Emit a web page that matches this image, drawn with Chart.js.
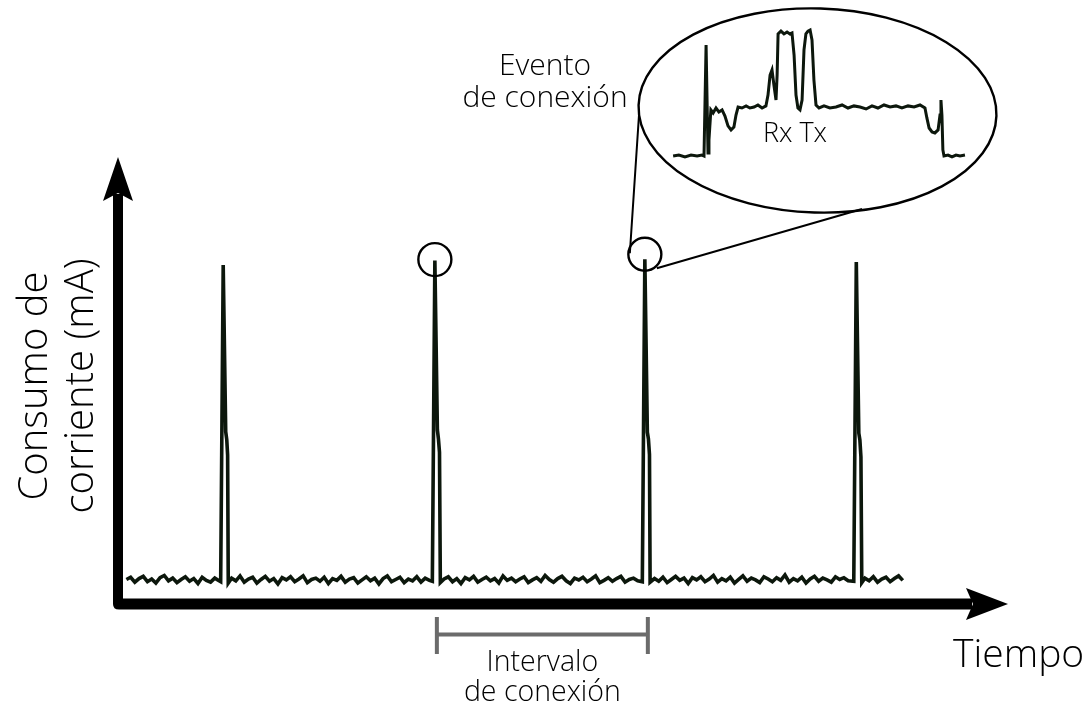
<!DOCTYPE html>
<html>
<head>
<meta charset="utf-8">
<script src="https://cdn.jsdelivr.net/npm/chart.js@4/dist/chart.umd.min.js"></script>
<style>
  html, body { margin: 0; padding: 0; background: #fff; }
  #wrap { position: relative; width: 1090px; height: 709px; }
  #main { position: absolute; left: 0; top: 0; }
  #zoomed { position: absolute; left: 660px; top: 20px; }
</style>
</head>
<body>
<div id="wrap">
  <canvas id="main" width="1090" height="709"></canvas>
  <canvas id="zoomed" width="320" height="160"></canvas>
</div>
<script>
// main trace: time (ms) and current (mA)
const tiempo = [
  4, 6, 8, 10, 12, 14, 16, 18, 20, 22, 24, 26, 28, 30, 32, 34, 36, 38, 40, 42, 44, 46, 48,
  48.8, 50.0, 51.2, 51.7, 52.1, 52.4,
  54, 56, 58, 60, 62, 64, 66, 68, 70, 72, 74, 76, 78, 80, 82, 84, 86, 88, 90, 92, 94, 96, 98, 100,
  102, 104, 106, 108, 110, 112, 114, 116, 118, 120, 122, 124, 126, 128, 130, 132, 134, 136, 138, 140,
  142, 144, 146, 148,
  149.4, 150.6, 151.8, 152.3, 152.8, 153.2,
  155, 157, 159, 161, 163, 165, 167, 169, 171, 173, 175, 177, 179, 181, 183, 185, 187, 189, 191, 193,
  195, 197, 199, 201, 203, 205, 207, 209, 211, 213, 215, 217, 219, 221, 223, 225, 227, 229, 231, 233,
  235, 237, 239, 241, 243, 245, 247,
  249.2, 250.4, 251.6, 252.1, 252.6, 252.9,
  255, 257, 259, 261, 263, 265, 267, 269, 271, 273, 275, 277, 279, 281, 283, 285, 287, 289, 291, 293,
  295, 297, 299, 301, 303, 305, 307, 309, 311, 313, 315, 317, 319, 321, 323, 325, 327, 329, 331, 333,
  335, 337, 339, 341, 343, 345, 347,
  349.7, 350.9, 352.1, 352.6, 353.1, 353.5,
  355, 357, 359, 361, 363, 365, 367, 369, 371, 373
];
const corriente = [
  0.55, 0.60, 0.49, 0.57, 0.62, 0.50, 0.56, 0.47, 0.59, 0.64, 0.52, 0.58, 0.48, 0.55, 0.61, 0.51, 0.57, 0.46, 0.60, 0.53, 0.49, 0.58, 0.52,
  0.50, 7.60, 3.86, 3.68, 3.34, 0.47,
  0.58, 0.52, 0.63, 0.49, 0.56, 0.60, 0.47, 0.55, 0.62, 0.51, 0.57, 0.45, 0.59, 0.54, 0.61, 0.50, 0.56, 0.63, 0.48, 0.55, 0.58, 0.51, 0.60, 0.46,
  0.57, 0.53, 0.62, 0.49, 0.56, 0.59, 0.47, 0.54, 0.61, 0.52, 0.58, 0.45, 0.57, 0.63, 0.50, 0.55, 0.60, 0.48, 0.56, 0.52,
  0.61, 0.49, 0.58, 0.53,
  0.51, 7.70, 3.90, 3.70, 3.40, 0.48,
  0.56, 0.61, 0.50, 0.57, 0.46, 0.59, 0.54, 0.62, 0.49, 0.55, 0.60, 0.52, 0.57, 0.47, 0.63, 0.53, 0.58, 0.50, 0.56, 0.61,
  0.48, 0.54, 0.59, 0.51, 0.64, 0.55, 0.49, 0.57, 0.62, 0.52, 0.46, 0.58, 0.54, 0.60, 0.50, 0.56, 0.63, 0.48, 0.53, 0.59,
  0.51, 0.57, 0.62, 0.49, 0.55, 0.58, 0.52,
  0.50, 7.73, 3.85, 3.70, 3.35, 0.49,
  0.57, 0.51, 0.60, 0.48, 0.55, 0.62, 0.53, 0.58, 0.46, 0.59, 0.54, 0.61, 0.50, 0.56, 0.64, 0.49, 0.57, 0.52, 0.60, 0.47,
  0.55, 0.63, 0.51, 0.58, 0.54, 0.48, 0.61, 0.56, 0.50, 0.59, 0.53, 0.65, 0.49, 0.57, 0.52, 0.60, 0.47, 0.56, 0.62, 0.51,
  0.58, 0.54, 0.49, 0.61, 0.55, 0.59, 0.52,
  0.51, 7.67, 3.83, 3.68, 3.30, 0.48,
  0.58, 0.52, 0.61, 0.49, 0.56, 0.60, 0.50, 0.57, 0.63, 0.53
];

// zoomed connection event (arbitrary units)
const tiempoEvento = [
  4.1, 5.9, 7.8, 9.7, 11.6, 13.1, 13.75, 14.4, 15.0, 15.3, 15.9, 16.6, 17.5, 18.4, 19.4, 20.3, 21.25,
  22.2, 23.1, 23.75, 24.4, 25.6, 26.9, 28.1, 29.4, 30.6, 31.9, 33.1, 33.75, 34.4, 35.0, 35.6, 36.25,
  36.6, 36.9, 37.8, 38.75, 39.7, 40.6, 41.25, 41.9, 42.5, 43.1, 43.75, 44.4, 45.0, 45.6, 46.25, 46.9,
  47.5, 48.1, 48.75, 49.7, 51.25, 53.1, 55.0, 56.9, 58.75, 60.6, 62.5, 64.4, 66.25, 68.1, 70.0, 71.9,
  73.75, 75.6, 77.5, 79.4, 81.25, 82.8, 83.4, 84.1, 85.0, 85.9, 86.9, 87.5, 87.8, 88.1, 88.4, 88.75,
  90.0, 91.25, 92.5, 93.75, 95.3
];
const corrienteEvento = [
  1.50, 1.56, 1.44, 1.56, 1.50, 1.56, 1.50, 8.44, 1.69, 2.50, 4.38, 4.19, 4.50, 4.25, 4.38, 4.00, 3.38,
  3.13, 3.31, 4.06, 4.56, 4.50, 4.63, 4.50, 4.56, 4.69, 4.50, 4.63, 5.31, 6.56, 6.88, 5.94, 5.00,
  6.56, 9.13, 9.31, 9.13, 9.25, 9.13, 9.19, 7.81, 5.31, 4.50, 4.38, 5.00, 8.13, 9.13, 9.31, 9.38,
  8.75, 6.25, 4.69, 4.50, 4.63, 4.50, 4.56, 4.69, 4.50, 4.63, 4.56, 4.44, 4.63, 4.50, 4.69, 4.56,
  4.63, 4.50, 4.63, 4.56, 4.69, 4.50, 3.88, 3.25, 3.00, 2.94, 3.13, 4.06, 5.00, 4.06, 1.88, 1.50,
  1.56, 1.44, 1.56, 1.50, 1.56
];

const FONT = '"Open Sans", "Noto Sans", sans-serif';
const TRACE = '#0c170c';

function toPoints(xs, ys) {
  return xs.map((x, i) => ({x: x, y: ys[i]}));
}

function arrow(ctx, pts) {
  ctx.beginPath();
  ctx.moveTo(pts[0][0], pts[0][1]);
  for (let i = 1; i < pts.length; i++) ctx.lineTo(pts[i][0], pts[i][1]);
  ctx.closePath();
  ctx.fill();
}

const decor = {
  id: 'decor',
  beforeDatasetsDraw(chart) {
    const ctx = chart.ctx;
    const a = chart.chartArea;
    const ox = a.left, oy = a.bottom;
    ctx.save();
    ctx.fillStyle = '#000';
    // axes shafts with rounded corner
    ctx.beginPath();
    ctx.moveTo(ox - 5, a.top + 36);
    ctx.lineTo(ox + 5, a.top + 36);
    ctx.lineTo(ox + 5, oy - 5.5);
    ctx.lineTo(a.right - 36, oy - 5.5);
    ctx.lineTo(a.right - 36, oy + 5.5);
    ctx.lineTo(ox + 1, oy + 5.5);
    ctx.quadraticCurveTo(ox - 5, oy + 5.5, ox - 5, oy);
    ctx.closePath();
    ctx.fill();
    // arrow heads
    arrow(ctx, [[ox, a.top - 1], [ox + 15, a.top + 43], [ox, a.top + 35], [ox - 15, a.top + 43]]);
    arrow(ctx, [[a.right, oy], [a.right - 42, oy + 16], [a.right - 35, oy], [a.right - 42, oy - 16]]);
    ctx.restore();
  },
  afterDatasetsDraw(chart) {
    const ctx = chart.ctx;
    const xs = chart.scales.x, ys = chart.scales.y;
    ctx.save();
    ctx.strokeStyle = '#000';
    ctx.lineWidth = 2.4;
    // circles on two peaks
    const c2 = [xs.getPixelForValue(150.6), ys.getPixelForValue(7.70) - 1];
    const c3 = [xs.getPixelForValue(250.4), ys.getPixelForValue(7.73) - 5];
    [c2, c3].forEach(c => {
      ctx.beginPath();
      ctx.arc(c[0], c[1], 16.5, 0, Math.PI * 2);
      ctx.stroke();
    });
    // big ellipse and callout lines
    ctx.beginPath();
    ctx.ellipse(817.5, 110.5, 179, 102, 0.03, 0, Math.PI * 2);
    ctx.stroke();
    ctx.lineWidth = 2;
    ctx.beginPath();
    ctx.moveTo(c3[0] - 15, c3[1] - 1);
    ctx.lineTo(639, 115);
    ctx.moveTo(c3[0] + 12, c3[1] + 14);
    ctx.lineTo(862, 209);
    ctx.stroke();

    // connection interval bracket
    const b1 = xs.getPixelForValue(150.6) + 2, b2 = xs.getPixelForValue(250.4) + 3;
    ctx.strokeStyle = '#6b6b6b';
    ctx.lineWidth = 4;
    ctx.beginPath();
    ctx.moveTo(b1, 617); ctx.lineTo(b1, 654);
    ctx.moveTo(b2, 617); ctx.lineTo(b2, 654);
    ctx.moveTo(b1, 634.5); ctx.lineTo(b2, 634.5);
    ctx.stroke();

    // texts
    ctx.fillStyle = '#000';
    ctx.textBaseline = 'middle';
    ctx.textAlign = 'center';
    ctx.font = '300 28.5px ' + FONT;
    ctx.fillText('Intervalo', (b1 + b2) / 2, 663);
    ctx.fillText('de conexión', (b1 + b2) / 2, 693);
    ctx.font = '300 30px ' + FONT;
    ctx.fillText('Evento', 545, 66);
    ctx.fillText('de conexión', 545, 98);
    ctx.font = '300 27px ' + FONT;
    ctx.fillText('Rx Tx', 795, 134);
    ctx.textAlign = 'left';
    ctx.font = '300 39px ' + FONT;
    ctx.fillText('Tiempo', 953, 656);
    ctx.translate(0, 386);
    ctx.rotate(-Math.PI / 2);
    ctx.textAlign = 'center';
    ctx.font = '300 40px ' + FONT;
    ctx.fillText('Consumo de', 0, 36);
    ctx.fillText('corriente (mA)', 0, 82);
    ctx.restore();
  }
};

const hidden = {display: false};

new Chart(document.getElementById('main').getContext('2d'), {
  type: 'line',
  data: {
    datasets: [{
      data: toPoints(tiempo, corriente),
      borderColor: TRACE,
      borderWidth: 3.6,
      pointRadius: 0,
      tension: 0
    }]
  },
  options: {
    responsive: false,
    animation: false,
    layout: {padding: {left: 118, right: 82, top: 158, bottom: 105}},
    plugins: {legend: hidden, tooltip: {enabled: false}},
    scales: {
      x: {type: 'linear', min: 0, max: 423, display: false},
      y: {min: 0, max: 10, display: false}
    }
  },
  plugins: [decor]
});

new Chart(document.getElementById('zoomed').getContext('2d'), {
  type: 'line',
  data: {
    datasets: [{
      data: toPoints(tiempoEvento, corrienteEvento),
      borderColor: TRACE,
      borderWidth: 3,
      pointRadius: 0,
      tension: 0
    }]
  },
  options: {
    responsive: false,
    animation: false,
    layout: {padding: 0},
    plugins: {legend: hidden, tooltip: {enabled: false}},
    scales: {
      x: {type: 'linear', min: 0, max: 100, display: false},
      y: {min: 0, max: 10, display: false}
    }
  }
});
</script>
</body>
</html>
